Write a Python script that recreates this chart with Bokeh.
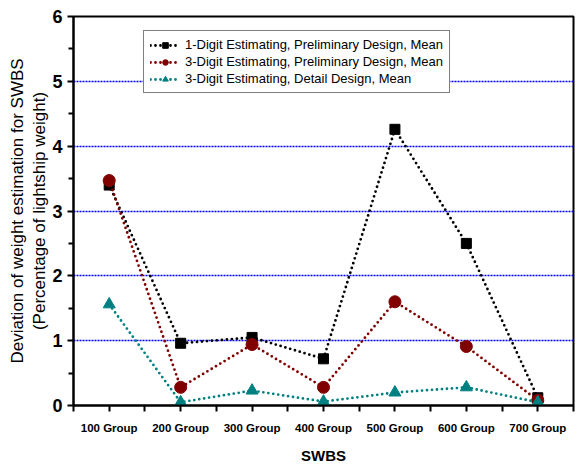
from bokeh.plotting import figure
from bokeh.models import FixedTicker, Range1d, Legend, LegendItem
from bokeh.embed import file_html
from bokeh.resources import INLINE

groups = ["100 Group", "200 Group", "300 Group", "400 Group", "500 Group", "600 Group", "700 Group"]
one_digit_prelim = [3.40, 0.96, 1.05, 0.72, 4.26, 2.50, 0.12]
three_digit_prelim = [3.47, 0.28, 0.94, 0.28, 1.60, 0.91, 0.08]
three_digit_detail = [1.56, 0.05, 0.23, 0.06, 0.20, 0.28, 0.05]

xs = list(range(1, len(groups) + 1))

p = figure(width=582, height=466, output_backend="svg", toolbar_location=None,
           x_range=Range1d(0.5, 7.5), y_range=Range1d(0, 6),
           min_border_left=73, min_border_right=9, min_border_top=16, min_border_bottom=61)

p.outline_line_color = "black"
p.outline_line_width = 2
p.background_fill_color = "white"
p.border_fill_color = "white"

# grid: blue dotted lines at whole units only
p.xgrid.visible = False
p.ygrid.ticker = FixedTicker(ticks=[1, 2, 3, 4, 5])
p.ygrid.grid_line_color = "#0000ff"
p.ygrid.grid_line_dash = "2 1"
p.ygrid.grid_line_width = 1.3

# axes
p.xaxis.ticker = FixedTicker(ticks=xs, minor_ticks=[x - 0.5 for x in xs] + [7.5])
p.xaxis.major_label_overrides = {x: g for x, g in zip(xs, groups)}
p.yaxis.ticker = FixedTicker(ticks=[0, 1, 2, 3, 4, 5, 6],
                             minor_ticks=[0.5, 1.5, 2.5, 3.5, 4.5, 5.5])
for ax in (p.xaxis[0], p.yaxis[0]):
    ax.axis_line_width = 2
    ax.axis_line_color = "black"
    ax.major_tick_line_width = 2
    ax.minor_tick_line_width = 2
    ax.major_tick_in = 0
    ax.minor_tick_in = 0
    ax.major_label_text_font = "Arial"
    ax.major_label_text_font_style = "bold"
    ax.major_label_text_color = "black"
    ax.axis_label_text_font = "Arial"
    ax.axis_label_text_color = "black"

p.xaxis.major_tick_out = 6
p.xaxis.minor_tick_out = 6
p.xaxis.major_label_text_font_size = "11.5px"
p.xaxis.major_label_standoff = 10
p.xaxis.axis_label = "SWBS"
p.xaxis.axis_label_text_font_size = "15px"
p.xaxis.axis_label_text_font_style = "bold"
p.xaxis.axis_label_standoff = 10

p.yaxis.major_tick_out = 6
p.yaxis.minor_tick_out = 5
p.yaxis.major_label_text_font_size = "18px"
p.yaxis.major_label_standoff = 5
p.yaxis.axis_label = "Deviation of weight estimation for SWBS\n(Percentage of lightship weight)"
p.yaxis.axis_label_text_font_size = "17px"
p.yaxis.axis_label_text_font_style = "normal"
p.yaxis.axis_label_standoff = 0

series = [
    ("1-Digit Estimating, Preliminary Design, Mean", one_digit_prelim, "black", "square", 10),
    ("3-Digit Estimating, Preliminary Design, Mean", three_digit_prelim, "#800000", "circle", 12),
    ("3-Digit Estimating, Detail Design, Mean", three_digit_detail, "#008080", "triangle", 12),
]

items = []
for label, ys, color, marker, size in series:
    ln = p.line(xs, ys, line_color=color, line_width=2.8, line_dash="0 5", line_cap="round")
    sc = p.scatter(xs, ys, marker=marker, size=size, fill_color=color, line_color=color)
    items.append(LegendItem(label=label, renderers=[ln, sc]))

legend = Legend(items=items, location=(70, 312))
legend.border_line_color = "black"
legend.border_line_width = 1.5
legend.label_text_font = "Arial"
legend.label_text_font_size = "13px"
legend.label_text_color = "black"
legend.label_height = 14
legend.glyph_height = 14
legend.glyph_width = 30
legend.spacing = 2
legend.padding = 6
legend.margin = 0
legend.background_fill_color = "white"
legend.background_fill_alpha = 1
p.add_layout(legend, "center")

open("out.html", "w").write(file_html(p, INLINE))
